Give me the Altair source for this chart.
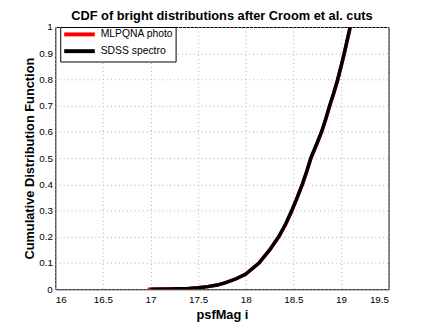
import altair as alt
import pandas as pd

# SDSS spectro CDF
sdss_mag = [17.0, 17.2, 17.4, 17.5, 17.6, 17.7, 17.79, 17.9, 18.0, 18.138, 18.25, 18.345,
            18.42, 18.483, 18.54, 18.593, 18.64, 18.683, 18.74, 18.795, 18.84, 18.88,
            18.925, 18.965, 19.0, 19.034, 19.065, 19.096]
sdss_cdf = [0.0, 0.001, 0.003, 0.006, 0.010, 0.016, 0.025, 0.040, 0.058, 0.100, 0.150, 0.200,
            0.250, 0.300, 0.350, 0.400, 0.450, 0.500, 0.550, 0.600, 0.650, 0.700,
            0.750, 0.800, 0.850, 0.900, 0.950, 1.000]

# MLPQNA photo CDF (nearly identical, starts slightly earlier)
mlp_mag = [16.97, 17.2, 17.4, 17.5, 17.6, 17.7, 17.79, 17.9, 18.0, 18.14, 18.253, 18.348,
           18.423, 18.486, 18.543, 18.596, 18.643, 18.686, 18.743, 18.798, 18.843, 18.883,
           18.928, 18.968, 19.003, 19.037, 19.068, 19.099]
mlp_cdf = sdss_cdf

series = ["MLPQNA photo", "SDSS spectro"]
colors = ["#ff0000", "#000000"]

df_mlp = pd.DataFrame({"mag": mlp_mag, "cdf": mlp_cdf, "series": series[0]})
df_sdss = pd.DataFrame({"mag": sdss_mag, "cdf": sdss_cdf, "series": series[1]})

x_ticks = [16, 16.5, 17, 17.5, 18, 18.5, 19, 19.5]
y_ticks = [0, 0.1, 0.2, 0.3, 0.4, 0.5, 0.6, 0.7, 0.8, 0.9, 1.0]

xenc = alt.X("mag:Q", scale=alt.Scale(domain=[16, 19.5], nice=False),
             axis=alt.Axis(values=x_ticks, format="~g", title="psfMag i",
                           grid=True, ticks=False, labelPadding=5, titlePadding=5))
yenc = alt.Y("cdf:Q", scale=alt.Scale(domain=[0, 1], nice=False),
             axis=alt.Axis(values=y_ticks, format=".1~f", title="Cumulative Distribution Function",
                           grid=True, ticks=False, labelPadding=3, titlePadding=2))
cenc = alt.Color("series:N",
                 scale=alt.Scale(domain=series, range=colors),
                 legend=alt.Legend(title=None, orient="none", legendX=5, legendY=0,
                                   symbolType="M-1,0H7.86", symbolSize=49, symbolStrokeWidth=4,
                                   labelFontSize=10.5, labelFont="Liberation Sans",
                                   strokeColor="black", fillColor="white",
                                   padding=2, rowPadding=0, labelOffset=28))

red = alt.Chart(df_mlp).mark_line(strokeWidth=3.5, clip=True).encode(x=xenc, y=yenc, color=cenc)
black = alt.Chart(df_sdss).mark_line(strokeWidth=3.5, clip=True).encode(x=xenc, y=yenc, color=cenc)

chart = alt.layer(red, black).properties(
    width=338, height=266,
    autosize=alt.AutoSizeParams(type="none"),
    padding={"left": 48, "top": 17, "right": 40, "bottom": 37},
    title=alt.TitleParams("CDF of bright distributions after Croom et al. cuts",
                          fontSize=13, fontWeight="bold", font="Liberation Sans",
                          offset=6, dy=7, anchor="middle", color="black"),
).configure_view(stroke="black", strokeWidth=1).configure_axis(
    labelFont="Liberation Sans", labelFontSize=10, labelColor="black",
    titleFont="Liberation Sans", titleFontSize=13, titleFontWeight="bold", titleColor="black",
    gridColor="#b0b0b0", gridDash=[1, 3], gridWidth=1, domain=False,
)

chart.save("out.html", embed_options={"renderer": "svg", "actions": False})
